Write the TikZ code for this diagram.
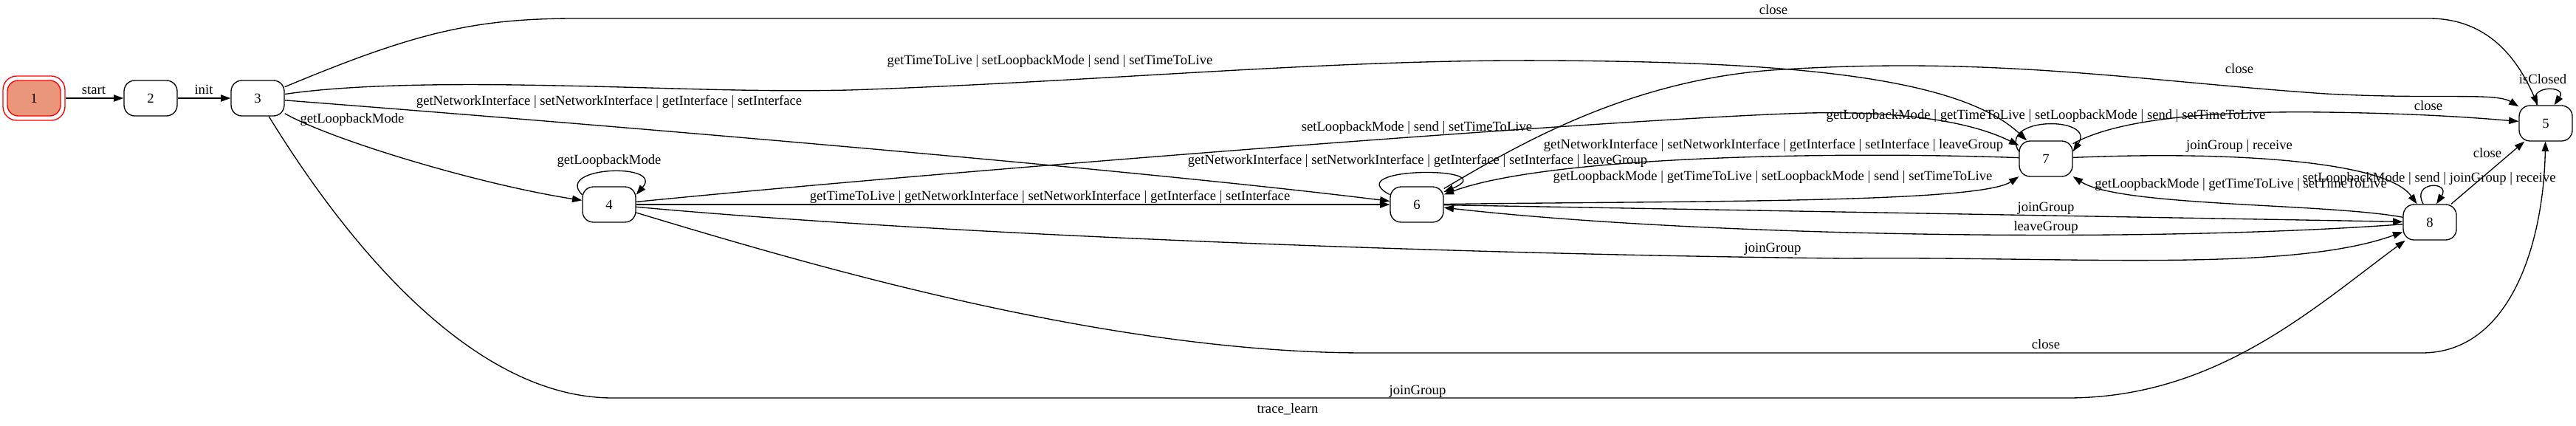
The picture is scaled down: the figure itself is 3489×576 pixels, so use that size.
\documentclass[tikz,border=0pt]{standalone}
\usepackage{fontspec}
\setmainfont{Liberation Serif}
\usetikzlibrary{arrows.meta}
\begin{document}
\begin{tikzpicture} [x=0.75pt,y=-0.75pt,
    statebox/.style={draw,line width=1pt,rounded corners=11pt,minimum width=54pt,minimum height=36pt,inner sep=0pt,font=\fontsize{14}{17}\selectfont},
    lbl/.style={inner sep=0pt,text height=9.5pt,text depth=3pt,font=\fontsize{14}{17}\selectfont},
    trans/.style={line width=1pt,-{Triangle[length=10pt,width=7pt]}}]

    \definecolor{salmonfill}{RGB}{233,150,122};

    % these coordinates guarantee the graph's total size
    \useasboundingbox (0,0) rectangle (3489,576);

    %states
    \node (n1) at (46,133) [statebox,draw=red,fill=salmonfill] {1};
    \node (n1o) at (46,133) [statebox,draw=red,minimum width=63pt,minimum height=45pt,rounded corners=14pt] {};
    \node (n2) at (204,133) [statebox] {2};
    \node (n3) at (349,133) [statebox] {3};
    \node (n4) at (825,277) [statebox] {4};
    \node (n5) at (3448,167) [statebox] {5};
    \node (n6) at (1919,277) [statebox] {6};
    \node (n7) at (2771,215) [statebox] {7};
    \node (n8) at (3291,301) [statebox] {8};

    %transitions
    \begin{scope} [trans]
    \draw (n1o) -- (n2);
    \draw (n2) -- (n3);
    %out of 3
    \draw (n3) .. controls (560,45) and (640,25) .. (780,25) -- (3290,25)
    .. controls (3370,25) and (3410,80) .. (n5);
    \draw (n3) .. controls (450,118) and (550,113) .. (700,115) .. controls
    (900,118) and (1000,125) .. (1150,122) .. controls (1500,110) and (1800,80)
    .. (2100,82) .. controls (2400,84) and (2650,100) .. (n7);
    \draw (n3) .. controls (700,160) and (1500,225) .. (n6);
    \draw (n3) .. controls (450,190) and (650,250) .. (n4);
    \draw (n3) .. controls (470,330) and (640,539) .. (830,539) -- (2800,539)
    .. controls (3000,539) and (3130,420) .. (n8);
    %out of 4
    \draw (n4.160) .. controls (750,225) and (900,220) .. (n4.20);
    \draw (n4) -- (n6);
    \draw (n4) .. controls (1300,230) and (2200,160) .. (2450,153) .. controls
    (2600,150) and (2680,170) .. (n7);
    \draw (n4) .. controls (1300,320) and (2000,345) .. (2500,350) .. controls
    (2800,347) and (3100,370) .. (n8);
    \draw (n4) .. controls (1100,360) and (1500,478) .. (1850,478) -- (3280,478)
    .. controls (3400,478) and (3445,330) .. (n5);
    %out of 6
    \draw (n6.160) .. controls (1810,225) and (2040,225) .. (n6.25);
    \draw (n6) .. controls (2050,200) and (2200,110) .. (2400,95) .. controls
    (2700,75) and (2900,110) .. (3150,127) .. controls (3300,135) and (3380,125) .. (n5);
    \draw (n6) .. controls (2300,272) and (2680,275) .. (n7);
    \draw (n6) -- (n8);
    %out of 7
    \draw (n7) .. controls (2500,205) and (2100,210) .. (n6);
    \draw (n7.165) .. controls (2705,157) and (2840,157) .. (n7.15);
    \draw (n7) .. controls (2870,160) and (3000,150) .. (3150,152) .. controls
    (3300,154) and (3380,162) .. (n5);
    \draw (n7) .. controls (3000,205) and (3230,215) .. (n8);
    %out of 8
    \draw (n8) .. controls (3150,275) and (2870,280) .. (n7);
    \draw (n8) .. controls (2900,330) and (2300,320) .. (n6);
    \draw (n8.110) .. controls (3265,245) and (3320,245) .. (n8.70);
    \draw (n8) -- (n5);
    %closed
    \draw (n5.115) .. controls (3420,115) and (3478,115) .. (n5.65);
    \end{scope}

    %labels
    \begin{scope} [lbl]
    \node (lstart) at (127,123) [lbl] {start};
    \node (linit) at (276,123) [lbl] {init};
    \node (l35) at (2402,15) [lbl] {close};
    \node (l37) at (1422,83) [lbl] {getTimeToLive | setLoopbackMode | send | setTimeToLive};
    \node (l36) at (825,138) [lbl] {getNetworkInterface | setNetworkInterface | getInterface | setInterface};
    \node (l34) at (477,162) [lbl] {getLoopbackMode};
    \node (l38) at (1920,530) [lbl] {joinGroup};
    \node (l44) at (825,218) [lbl] {getLoopbackMode};
    \node (l46) at (1422,267) [lbl] {getTimeToLive | getNetworkInterface | setNetworkInterface | getInterface | setInterface};
    \node (l47) at (1919,173) [lbl] {setLoopbackMode | send | setTimeToLive};
    \node (l48) at (2401,337) [lbl] {joinGroup};
    \node (l45) at (2771,468) [lbl] {close};
    \node (l66) at (1920,218) [lbl] {getNetworkInterface | setNetworkInterface | getInterface | setInterface | leaveGroup};
    \node (l65) at (3033,95) [lbl] {close};
    \node (l67) at (2401,240) [lbl] {getLoopbackMode | getTimeToLive | setLoopbackMode | send | setTimeToLive};
    \node (l68) at (2771,282) [lbl] {joinGroup};
    \node (l76) at (2402,197) [lbl] {getNetworkInterface | setNetworkInterface | getInterface | setInterface | leaveGroup};
    \node (l77) at (2771,157) [lbl] {getLoopbackMode | getTimeToLive | setLoopbackMode | send | setTimeToLive};
    \node (l75) at (3289,145) [lbl] {close};
    \node (l78) at (3033,198) [lbl] {joinGroup | receive};
    \node (l87) at (3035,250) [lbl] {getLoopbackMode | getTimeToLive | setTimeToLive};
    \node (l86) at (2771,308) [lbl] {leaveGroup};
    \node (l88) at (3290,242) [lbl] {setLoopbackMode | send | joinGroup | receive};
    \node (l85) at (3369,209) [lbl] {close};
    \node (l55) at (3444,109) [lbl] {isClosed};
    \end{scope}

    %caption
    \node (ltrace) at (1744,555) [lbl] {trace\_learn};

\end{tikzpicture}
\end{document}
